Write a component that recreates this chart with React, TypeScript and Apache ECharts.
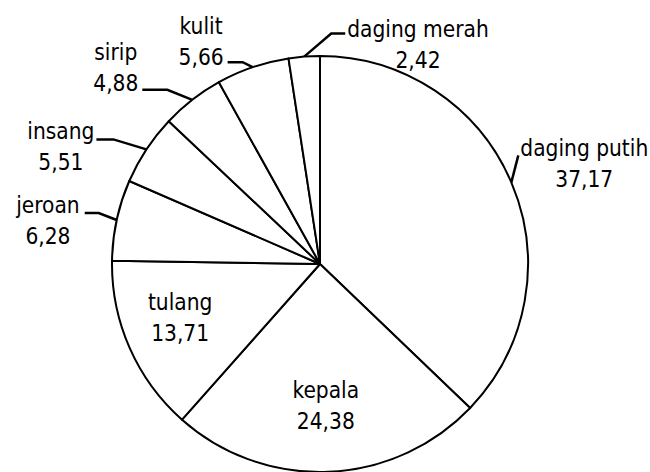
import React, { useEffect, useRef } from "react";
import * as echarts from "echarts";

// Data
const categories = [
  "daging putih",
  "kepala",
  "tulang",
  "jeroan",
  "insang",
  "sirip",
  "kulit",
  "daging merah",
];
const values = [37.17, 24.38, 13.71, 6.28, 5.51, 4.88, 5.66, 2.42];
const insideLabelled = ["kepala", "tulang"];

// Leader-line shapes (relative to the arc anchor computed by ECharts)
type Leader = { seg: [number, number]; run: number; gap: number; dy: number; side: number };
const leaders: Record<string, Leader> = {
  "daging putih": { seg: [7, -27], run: 0, gap: 2, dy: 8, side: 1 },
  "daging merah": { seg: [27, -23], run: 14, gap: 2, dy: 11, side: 1 },
  kulit: { seg: [-10, -5], run: -15, gap: 4, dy: -21, side: -1 },
  sirip: { seg: [-25, -10], run: -25, gap: 4, dy: -22, side: -1 },
  insang: { seg: [-33, -10], run: -17, gap: 2, dy: 7, side: -1 },
  jeroan: { seg: [-18, -7], run: -14, gap: 5, dy: 7, side: -1 },
};
// small nudges for the labels placed inside the slices
const insideNudge: Record<string, [number, number]> = {
  kepala: [0, -1],
  tulang: [-9, -4],
};

const FONT = "'DejaVu Sans Condensed', 'Liberation Sans', sans-serif";
const FONT_SIZE = 22.5;
const LINE_HEIGHT = 31;

const fmt = (p: any) => `${p.name}\n${Number(p.value).toFixed(2).replace(".", ",")}`;

export default function App() {
  const ref = useRef<HTMLDivElement>(null);

  useEffect(() => {
    document.body.style.margin = "0";
    if (!ref.current) return;
    const chart = echarts.init(ref.current, undefined, { renderer: "svg" });

    const mainData = categories.map((name, i) => {
      const outside = !insideLabelled.includes(name);
      return {
        name,
        value: values[i],
        label: { show: outside },
        labelLine: { show: outside, length: 10, length2: 10 },
      };
    });

    const labelData = categories.map((name, i) => ({
      name,
      value: values[i],
      label: { show: insideLabelled.includes(name) },
    }));

    chart.setOption({
      animation: false,
      backgroundColor: "#ffffff",
      series: [
        {
          type: "pie",
          center: [320, 264],
          radius: [0, 208],
          startAngle: 90,
          clockwise: true,
          avoidLabelOverlap: false,
          silent: true,
          itemStyle: { color: "#ffffff", borderColor: "#000000", borderWidth: 2 },
          label: {
            position: "outside",
            formatter: fmt,
            color: "#000000",
            fontFamily: FONT,
            fontSize: FONT_SIZE,
            lineHeight: LINE_HEIGHT,
          },
          labelLine: {
            lineStyle: { color: "#000000", width: 2.5 },
          },
          labelLayout: (params: any) => {
            const name = categories[params.dataIndex];
            const cfg = leaders[name];
            if (!cfg || !params.labelLinePoints) return {};
            const p0 = params.labelLinePoints[0];
            const p1 = [p0[0] + cfg.seg[0], p0[1] + cfg.seg[1]];
            const p2 = [p1[0] + cfg.run, p1[1]];
            const w = params.labelRect.width;
            return {
              x: p2[0] + cfg.side * (cfg.gap + w / 2),
              y: p2[1] + cfg.dy,
              align: "center",
              verticalAlign: "middle",
              labelLinePoints: [p0, p1, p2],
            };
          },
          data: mainData,
        },
        {
          type: "pie",
          center: [320, 264],
          radius: [100, 180],
          startAngle: 90,
          clockwise: true,
          avoidLabelOverlap: false,
          silent: true,
          itemStyle: { color: "transparent", borderWidth: 0 },
          label: {
            position: "inside",
            formatter: fmt,
            color: "#000000",
            fontFamily: FONT,
            fontSize: FONT_SIZE,
            lineHeight: LINE_HEIGHT,
          },
          labelLine: { show: false },
          labelLayout: (params: any) => {
            const nudge = insideNudge[categories[params.dataIndex]];
            if (!nudge) return {};
            const r = params.labelRect;
            return {
              x: r.x + r.width / 2 + nudge[0],
              y: r.y + r.height / 2 + nudge[1],
              align: "center",
              verticalAlign: "middle",
            };
          },
          data: labelData,
        },
      ],
    });

    return () => chart.dispose();
  }, []);

  return <div ref={ref} style={{ width: 650, height: 472 }} />;
}
